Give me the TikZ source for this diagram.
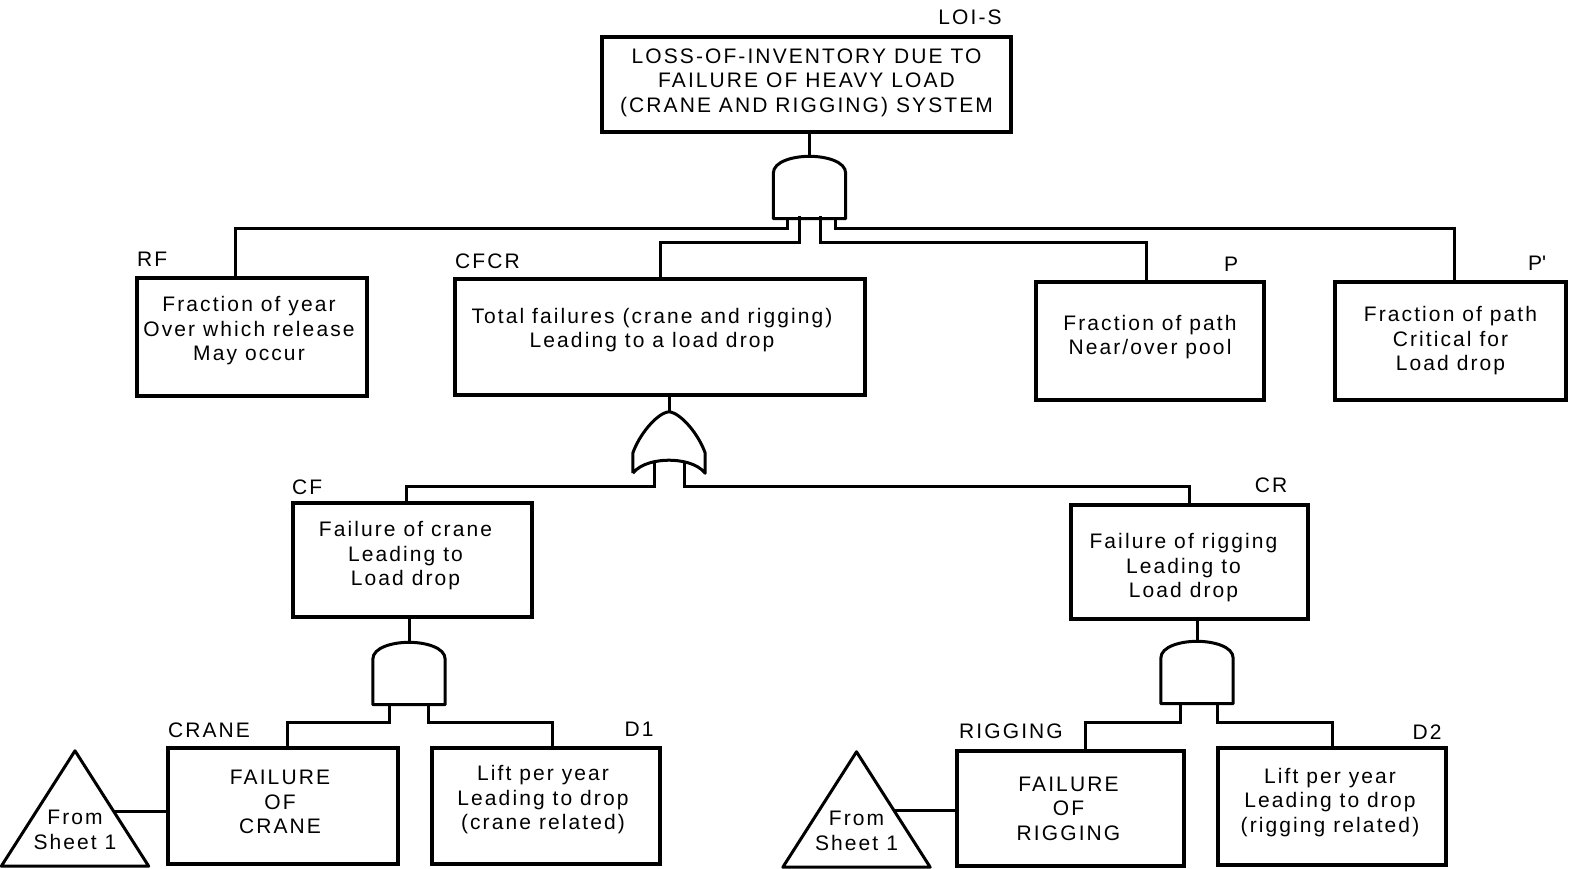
\documentclass[tikz,border=0pt]{standalone}
\usepackage{fontspec}
\setmainfont{Liberation Sans}[LetterSpace=10]
\usepackage{tikz}
\usetikzlibrary{calc}
\tikzset{
  evt/.style={rectangle, draw=black, line width=3.4pt, inner sep=0pt},
  txt/.style={align=center, inner sep=0pt,
    font=\fontsize{21}{24.5}\selectfont},
  tag/.style={inner sep=0pt, font=\fontsize{21}{24.5}\selectfont},
  wire/.style={draw=black, line width=3pt},
  andg/.style={rectangle, minimum width=72pt, minimum height=62pt,
    inner sep=0pt,
    append after command={\pgfextra{
      \draw[line width=3pt, line join=round]
        (\tikzlastnode.south west)
        -- ([yshift=-17pt]\tikzlastnode.north west)
        .. controls ([yshift=-5pt]\tikzlastnode.north west)
        and ([xshift=-16pt]\tikzlastnode.north) .. (\tikzlastnode.north)
        .. controls ([xshift=16pt]\tikzlastnode.north)
        and ([yshift=-5pt]\tikzlastnode.north east)
        .. ([yshift=-17pt]\tikzlastnode.north east)
        -- (\tikzlastnode.south east) -- cycle;}}},
  org/.style={rectangle, minimum width=72pt, minimum height=61pt,
    inner sep=0pt,
    append after command={\pgfextra{
      \draw[line width=3pt, line join=round]
        (\tikzlastnode.south west)
        -- ([yshift=20pt]\tikzlastnode.south west)
        .. controls ([xshift=6pt,yshift=38pt]\tikzlastnode.south west)
        and ([xshift=-12pt,yshift=-1pt]\tikzlastnode.north) .. (\tikzlastnode.north)
        .. controls ([xshift=12pt,yshift=-1pt]\tikzlastnode.north)
        and ([xshift=-6pt,yshift=38pt]\tikzlastnode.south east)
        .. ([yshift=20pt]\tikzlastnode.south east)
        -- (\tikzlastnode.south east)
        .. controls ([xshift=-8pt,yshift=10pt]\tikzlastnode.south east)
        and ([xshift=12pt,yshift=13pt]\tikzlastnode.south)
        .. ([yshift=13pt]\tikzlastnode.south)
        .. controls ([xshift=-12pt,yshift=13pt]\tikzlastnode.south)
        and ([xshift=8pt,yshift=10pt]\tikzlastnode.south west)
        .. (\tikzlastnode.south west);}}},
  xfer/.style={rectangle, minimum width=147pt, minimum height=72pt,
    inner sep=0pt, align=center,
    font=\fontsize{21}{24.5}\selectfont,
    append after command={\pgfextra{
      \draw[line width=3pt, line join=round]
        (\tikzlastnode.south west)
        -- ([yshift=43pt]\tikzlastnode.north)
        -- (\tikzlastnode.south east) -- cycle;}}},
}
\begin{document}
\begin{tikzpicture}[x=1pt, y=-1pt]
    \useasboundingbox (0,0) rectangle (1575,869);

    % top event and first row
    \node[evt, minimum width=409pt, minimum height=95pt] (loi) at (806.5,84.5) {};
    \node[txt] (loitxt) at ([yshift=2pt]loi.center)
      {LOSS-OF-INVENTORY DUE TO\\FAILURE OF HEAVY LOAD\\(CRANE AND RIGGING) SYSTEM};
    \node[tag] (loitag) at (970,17) {LOI-S};
    \node[andg] (g0) at (809.5,187.5) {};

    \node[evt, minimum width=230pt, minimum height=118pt] (rf) at (252,337) {};
    \node[txt] (rftxt) at ([xshift=-3pt,yshift=6pt]rf.center)
      {Fraction of year\\Over which release\\May occur};
    \node[evt, minimum width=410pt, minimum height=116pt] (cfcr) at (660,337) {};
    \node[txt] (cfcrtxt) at ([xshift=-8pt,yshift=7pt]cfcr.center)
      {Total failures (crane and rigging)\\Leading to a load drop};
    \node[evt, minimum width=228pt, minimum height=118pt] (p) at (1150,341) {};
    \node[txt] (ptxt) at ([yshift=4pt]p.center)
      {Fraction of path\\Near/over pool};
    \node[evt, minimum width=231pt, minimum height=118pt] (pp) at (1450.5,341) {};
    \node[txt] (pptxt) at (pp.center)
      {Fraction of path\\Critical for\\Load drop};
    \node[tag, anchor=west] (rftag) at (137,259) {RF};
    \node[tag, anchor=west] (cfcrtag) at (455,261) {CFCR};
    \node[tag] (ptag) at (1231,264) {P};
    \node[tag] (pptag) at (1537,263) {P\textquotesingle};

    % crane / rigging split
    \node[org] (g1) at (669,442.5) {};
    \node[evt, minimum width=239pt, minimum height=114pt] (cf) at (412.5,560) {};
    \node[txt] (cftxt) at ([xshift=-7pt,yshift=4pt]cf.center)
      {Failure of crane\\Leading to\\Load drop};
    \node[evt, minimum width=237pt, minimum height=114pt] (cr) at (1189.5,562) {};
    \node[txt] (crtxt) at ([xshift=-6pt,yshift=-6pt]cr.center)
      {Failure of rigging\\Leading to\\Load drop};
    \node[tag, anchor=west] (cftag) at (292,487) {CF};
    \node[tag] (crtag) at (1271,485) {CR};

    % bottom row
    \node[andg] (g2) at (409,673.5) {};
    \node[andg] (g3) at (1197,672.5) {};
    \node[evt, minimum width=230pt, minimum height=116pt] (crane) at (283,806) {};
    \node[txt] (cranetxt) at ([xshift=-3pt,yshift=4pt]crane.center)
      {FAILURE\\OF\\CRANE};
    \node[evt, minimum width=228pt, minimum height=116pt] (done) at (546,806) {};
    \node[txt] (donetxt) at ([xshift=-3pt,yshift=6pt]done.center)
      {Lift per year\\Leading to drop\\(crane related)};
    \node[evt, minimum width=227pt, minimum height=115pt] (rig) at (1070.5,808.5) {};
    \node[txt] (rigtxt) at ([xshift=-2pt]rig.center)
      {FAILURE\\OF\\RIGGING};
    \node[evt, minimum width=228pt, minimum height=117pt] (dtwo) at (1332,806.5) {};
    \node[txt] (dtwotxt) at ([xshift=-2pt,yshift=4pt]dtwo.center)
      {Lift per year\\Leading to drop\\(rigging related)};
    \node[tag] (cranetag) at (209,730) {CRANE};
    \node[tag] (donetag) at (639,729) {D1};
    \node[tag] (rigtag) at (1011,731) {RIGGING};
    \node[tag] (dtwotag) at (1427,732) {D2};
    \node[xfer] (fsa) at (75,830) {From\\Sheet 1};
    \node[xfer] (fsb) at (856.5,831) {From\\Sheet 1};
    \coordinate (fsaedge) at ($(fsa.south east)!.47!([yshift=43pt]fsa.north)$);
    \coordinate (fsbedge) at ($(fsb.south east)!.49!([yshift=43pt]fsb.north)$);

    % connectors
    \draw[wire] (g0.north) -- (g0.north |- loi.south);
    \draw[wire] ([xshift=-22.5pt]g0.south) -- ++(0,10) -| ([xshift=-17pt]rf.north);
    \draw[wire] ([xshift=-10.5pt,yshift=3pt]g0.south) -- ++(0,27) -| (cfcr.north);
    \draw[wire] ([xshift=10.5pt,yshift=3pt]g0.south) -- ++(0,27) -| ([xshift=-4pt]p.north);
    \draw[wire] ([xshift=25.5pt]g0.south) -- ++(0,10) -| ([xshift=3.5pt]pp.north);

    \draw[wire] (g1.north) -- (g1.north |- cfcr.south);
    \draw[wire] ([xshift=-15pt,yshift=12pt]g1.south) -- ++(0,25) -| ([xshift=-6.5pt]cf.north);
    \draw[wire] ([xshift=15pt,yshift=12pt]g1.south) -- ++(0,25) -| (cr.north);

    \draw[wire] (g2.north) -- (g2.north |- cf.south);
    \draw[wire] ([xshift=-20pt]g2.south) -- ++(0,18) -| ([xshift=4pt]crane.north);
    \draw[wire] ([xshift=19pt]g2.south) -- ++(0,18) -| ([xshift=6pt]done.north);

    \draw[wire] (g3.north) -- (g3.north |- cr.south);
    \draw[wire] ([xshift=-17pt]g3.south) -- ++(0,19) -| ([xshift=14.5pt]rig.north);
    \draw[wire] ([xshift=20pt]g3.south) -- ++(0,19) -| (dtwo.north);

    \draw[wire] (fsaedge) -- (fsaedge -| crane.west);
    \draw[wire] (fsbedge) -- (fsbedge -| rig.west);
  \end{tikzpicture}
\end{document}
